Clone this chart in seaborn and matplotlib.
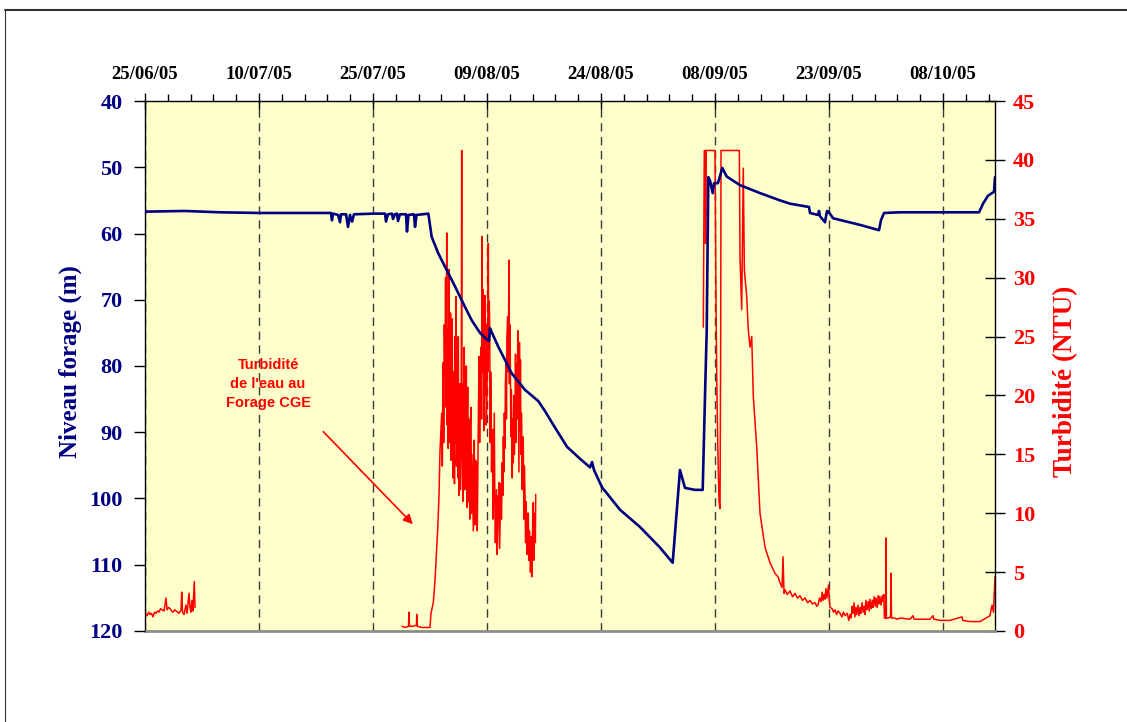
import numpy as np
import pandas as pd
import matplotlib
matplotlib.use("Agg")
import matplotlib.pyplot as plt
import matplotlib.dates as mdates
import matplotlib.ticker as mticker
from matplotlib.lines import Line2D
import seaborn as sns

START = pd.Timestamp("2005-06-25")

# Top axis: date labels every 15 days
date_labels = ["25/06/05", "10/07/05", "25/07/05", "09/08/05",
               "24/08/05", "08/09/05", "23/09/05", "08/10/05"]
level_ticks = [40, 50, 60, 70, 80, 90, 100, 110, 120]
turb_ticks = [0, 5, 10, 15, 20, 25, 30, 35, 40, 45]

# Borehole water level (m), days since 25/06/05
level_day = [0.0, 5.26, 9.87, 15.0, 20.4, 24.47, 24.6, 24.74, 25.4, 25.66,
             25.79, 26.45, 26.71, 26.97, 27.24, 27.5, 30.0, 31.58, 31.71, 31.97,
             32.5, 32.63, 32.89, 33.16, 33.29, 33.55, 34.34, 34.47, 34.67, 35.39,
             35.53, 35.72, 37.28, 37.72, 38.59, 39.47, 40.36, 41.22, 42.11, 42.99,
             44.08, 44.96, 45.26, 45.39, 45.62, 46.49, 47.37, 48.25, 50.0, 51.75,
             52.63, 53.68, 55.53, 57.24, 58.55, 58.82, 59.08, 60.13, 62.5, 65.13,
             67.76, 69.43, 70.39, 71.05, 72.37, 73.38, 73.68, 73.91, 74.12, 74.34,
             74.7, 74.87, 75.39, 75.96, 76.54, 78.29, 80.92, 83.55, 84.87, 87.37,
             87.5, 88.55, 88.68, 88.82, 89.47, 89.74, 90.0, 90.53, 94.08, 96.58,
             96.84, 97.24, 99.34, 105.92, 109.74, 110.26, 110.92, 111.71, 111.84]
level_m = [56.7, 56.6, 56.8, 56.9, 56.9, 56.9, 58.0, 57.0, 57.2, 58.3,
           57.1, 57.1, 59.0, 57.2, 58.2, 57.1, 57.0, 57.0, 58.2, 57.1,
           57.0, 57.8, 57.1, 57.0, 58.1, 57.1, 57.1, 59.7, 57.2, 57.1,
           59.0, 57.2, 57.0, 60.5, 63.0, 65.0, 67.0, 69.0, 71.1, 73.1,
           75.0, 76.0, 76.2, 74.3, 74.9, 77.1, 79.1, 81.1, 83.6, 85.3,
           86.8, 88.8, 92.2, 94.0, 95.3, 94.5, 95.7, 98.3, 101.7, 104.3,
           107.4, 109.7, 95.7, 98.4, 98.7, 98.7, 84.7, 74.6, 51.5, 52.0,
           53.9, 52.4, 52.4, 50.1, 51.4, 52.7, 53.9, 55.0, 55.5, 56.0,
           56.9, 57.2, 56.6, 57.4, 58.3, 56.6, 56.8, 57.7, 58.7, 59.5,
           58.0, 56.9, 56.8, 56.8, 56.8, 55.5, 54.3, 53.7, 51.5]

# Turbidity (NTU), three recording periods
turb_day_1 = [0.0, 0.26, 0.5, 0.66, 0.85, 1.05, 1.25, 1.45, 1.65, 1.84,
              2.05, 2.24, 2.5, 2.76, 2.9, 3.1, 3.29, 3.5, 3.68, 3.9,
              4.08, 4.3, 4.47, 4.74, 4.83, 4.93, 5.13, 5.39, 5.53, 5.79,
              5.92, 6.05, 6.18, 6.3, 6.49, 6.58]
turb_ntu_1 = [1.5, 1.3, 1.6, 1.4, 1.5, 1.2, 1.6, 1.5, 1.7, 1.6,
              1.9, 1.8, 1.7, 2.8, 1.8, 2.0, 1.9, 1.7, 1.6, 1.8,
              1.7, 1.6, 1.5, 1.8, 3.3, 1.6, 1.4, 2.2, 1.5, 3.2,
              2.0, 1.6, 2.6, 1.7, 4.2, 2.0]

turb_day_2 = [33.82, 34.21, 34.67, 34.74, 34.8, 35.26, 35.72, 35.76, 35.82, 36.45,
              36.97, 37.5, 37.63, 37.93, 38.16, 38.51, 38.68, 38.82,
              39.04, 39.12, 39.2, 39.25, 39.3, 39.38, 39.47, 39.55, 39.62, 39.7,
              39.76, 39.83, 39.9, 40.0, 40.06, 40.13, 40.2, 40.27, 40.36, 40.42,
              40.5, 40.57, 40.64, 40.72, 40.79, 40.85, 40.92, 40.98, 41.05, 41.12,
              41.17, 41.22, 41.29, 41.36, 41.43, 41.5, 41.58, 41.62, 41.67, 41.7,
              41.75, 41.82, 41.9, 41.95, 42.01, 42.08, 42.14, 42.2, 42.28, 42.35,
              42.4, 42.46, 42.53, 42.6, 42.67, 42.74, 42.8, 42.89, 42.95, 43.02,
              43.12, 43.2, 43.27, 43.33, 43.38, 43.42, 43.5, 43.58, 43.64, 43.72,
              43.78, 43.86, 43.95, 44.03, 44.1, 44.21, 44.28, 44.34, 44.4, 44.46,
              44.51, 44.57, 44.64, 44.7, 44.76, 44.83, 44.9, 45.0, 45.06, 45.12,
              45.17, 45.22, 45.3, 45.36, 45.42, 45.48, 45.53, 45.6, 45.67, 45.75,
              45.8, 45.88, 45.96, 46.03, 46.1, 46.18, 46.25, 46.33, 46.41, 46.48,
              46.55, 46.58, 46.66, 46.75, 46.82, 46.9, 47.01, 47.08, 47.15, 47.22,
              47.28, 47.35, 47.42, 47.5, 47.56, 47.62, 47.72, 47.8, 47.89, 47.95,
              48.02, 48.07, 48.14, 48.2, 48.25, 48.32, 48.4, 48.46, 48.52, 48.6,
              48.68, 48.75, 48.82, 48.91, 48.97, 49.05, 49.12, 49.2, 49.27, 49.34,
              49.4, 49.47, 49.53, 49.57, 49.64, 49.7, 49.78, 49.85, 49.92, 50.0,
              50.08, 50.15, 50.22, 50.3, 50.36, 50.43, 50.5, 50.58, 50.66, 50.72,
              50.8, 50.88, 50.95, 51.02, 51.09, 51.16, 51.22, 51.3, 51.36, 51.41]
turb_ntu_2 = [0.4, 0.3, 0.4, 1.6, 0.4, 0.4, 0.5, 1.4, 0.4, 0.3,
              0.3, 0.3, 1.5, 2.4, 4.3, 8.6, 11.4, 15.4,
              18.5, 14.0, 21.0, 22.8, 16.0, 26.0, 21.6, 30.0, 19.0, 33.8,
              17.5, 25.6, 15.5, 30.7, 16.0, 18.5, 27.0, 14.5, 20.5, 26.5,
              13.0, 15.4, 22.0, 12.5, 25.0, 16.0, 28.4, 14.0, 17.6, 22.5,
              13.0, 25.0, 11.5, 15.6, 21.0, 12.0, 14.8, 22.0, 40.8, 16.0,
              18.2, 11.0, 21.0, 13.5, 24.1, 12.0, 19.5, 14.3, 22.5, 10.5,
              17.0, 20.7, 11.0, 18.0, 13.1, 9.5, 17.5, 19.0, 10.0, 15.0,
              11.4, 8.5, 15.5, 16.2, 9.0, 9.7, 14.5, 11.0, 14.3, 8.5,
              12.8, 18.0, 23.3, 16.0, 21.5, 24.1, 18.0, 33.5, 22.0, 29.0,
              26.7, 17.0, 19.9, 28.5, 20.0, 26.1, 17.5, 19.9, 26.0, 22.0,
              32.9, 24.0, 28.0, 25.6, 16.0, 22.0, 20.4, 13.5, 17.0, 17.1,
              9.5, 14.0, 18.5, 11.0, 7.5, 10.0, 12.0, 6.5, 8.6, 11.5,
              9.0, 12.6, 7.0, 10.0, 12.5, 9.5, 14.3, 11.5, 16.5, 13.5,
              18.5, 15.5, 21.0, 22.7, 18.0, 25.0, 26.7, 22.0, 31.5, 21.0,
              26.0, 22.7, 16.5, 20.5, 17.9, 13.0, 18.0, 14.3, 20.0, 15.0,
              17.7, 23.5, 16.0, 22.7, 18.0, 25.5, 19.9, 13.5, 24.5, 17.0,
              23.0, 15.0, 18.5, 17.1, 12.0, 16.5, 15.6, 9.5, 14.0, 11.4,
              7.5, 11.0, 8.3, 6.5, 10.0, 10.0, 6.0, 8.5, 7.1, 5.0,
              8.0, 4.6, 6.5, 9.5, 10.9, 6.0, 7.1, 10.0, 7.5, 11.6]

turb_day_3 = [73.46, 73.59, 73.72, 73.76, 73.84, 75.0, 75.13, 75.26, 75.39, 75.53,
              75.66, 75.75, 75.79, 78.2, 78.29, 78.51, 78.72, 78.86, 79.17, 79.38,
              79.61, 79.83, 80.04, 80.49, 80.92, 81.58, 82.24, 82.89, 83.29, 83.55,
              83.82, 83.95, 84.08, 84.21, 84.5, 84.87, 85.2, 85.53, 85.85, 86.18,
              86.5, 86.84, 87.2, 87.5, 87.8, 88.16, 88.4, 88.55, 88.75, 88.95,
              89.1, 89.21, 89.35, 89.47, 89.6, 89.74, 89.93, 90.05, 90.13, 90.4,
              90.6, 90.79, 91.0, 91.2, 91.45, 91.7, 91.9, 92.11, 92.4, 92.6,
              92.76, 92.9, 93.05, 93.16, 93.3, 93.4, 93.55, 93.65, 93.82, 93.95,
              94.1, 94.21, 94.35, 94.5, 94.61, 94.75, 94.85, 95.0, 95.15, 95.3,
              95.39, 95.55, 95.7, 95.79, 95.95, 96.1, 96.18, 96.35, 96.5, 96.58,
              96.7, 96.84, 97.0, 97.11, 97.2, 97.3, 97.45, 97.5, 97.55, 97.8,
              98.1, 98.16, 98.22, 98.6, 99.0, 99.34, 100.66, 101.05, 101.2, 101.97,
              103.29, 103.68, 103.8, 104.61, 105.92, 107.5, 107.6, 108.55, 109.87, 110.66,
              111.18, 111.45, 111.64, 111.84]
turb_ntu_3 = [25.8, 40.8, 40.8, 32.9, 40.8, 40.8, 28.0, 20.0, 15.0, 11.0,
              10.4, 25.0, 40.8, 40.8, 31.8, 27.3, 39.3, 30.7, 28.4, 25.6,
              24.1, 25.0, 19.9, 15.6, 10.0, 7.1, 5.8, 4.9, 4.6, 4.1,
              3.7, 6.3, 3.2, 3.5, 3.1, 3.4, 2.9, 3.2, 2.8, 3.0,
              2.6, 2.8, 2.4, 2.6, 2.3, 2.4, 2.1, 2.2, 2.8, 2.5,
              3.3, 2.6, 3.1, 2.7, 3.6, 2.8, 3.9, 2.6, 2.0, 1.9,
              1.6, 1.8, 1.4, 1.7, 1.5, 1.2, 1.6, 1.3, 1.5, 0.9,
              1.4, 1.1, 2.1, 1.5, 2.4, 1.2, 2.0, 1.4, 2.2, 1.3,
              2.0, 1.5, 2.4, 1.6, 2.1, 1.4, 2.6, 1.8, 2.5, 1.7,
              2.7, 1.9, 2.6, 2.0, 2.9, 2.1, 2.8, 2.0, 3.0, 2.3,
              2.9, 2.2, 3.0, 2.5, 3.1, 1.1, 1.1, 7.9, 1.1, 1.1,
              1.2, 4.9, 1.1, 1.1, 1.0, 1.1, 1.0, 1.3, 1.0, 1.0,
              1.0, 1.3, 1.0, 0.9, 0.9, 1.2, 0.9, 0.8, 0.8, 1.1,
              1.3, 2.2, 1.6, 4.6]


def to_dates(days):
    return START + pd.to_timedelta(np.asarray(days, dtype=float), unit="D")


level_df = pd.DataFrame({"date": to_dates(level_day), "level": level_m})
turb_df = pd.concat([
    pd.DataFrame({"date": to_dates(d), "ntu": v, "segment": i})
    for i, (d, v) in enumerate([(turb_day_1, turb_ntu_1),
                                (turb_day_2, turb_ntu_2),
                                (turb_day_3, turb_ntu_3)])
], ignore_index=True)

NAVY = "#000080"
RED = "#FF0000"

sns.set_theme(style="ticks")
plt.rcParams["font.family"] = ["Liberation Serif", "DejaVu Serif"]

fig = plt.figure(figsize=(11.27, 7.22), dpi=100)
ax = fig.add_axes([0.12866, 0.12604, 0.75421, 0.73407])
ax.set_facecolor("#FFFFCC")
ax2 = ax.twinx()

sns.lineplot(data=turb_df, x="date", y="ntu", units="segment", estimator=None,
             sort=False, color=RED, linewidth=1.1, ax=ax)
sns.lineplot(data=level_df, x="date", y="level", estimator=None, sort=False,
             color=NAVY, linewidth=1.9, ax=ax2)

# x axis (dates on top)
major_dates = pd.date_range(START, periods=len(date_labels), freq="15D")
minor_dates = pd.date_range(START, START + pd.Timedelta(days=112), freq="3D")
ax.set_xlim(START, START + pd.Timedelta(days=111.84))
ax.xaxis.set_major_locator(mticker.FixedLocator(mdates.date2num(major_dates)))
ax.xaxis.set_minor_locator(mticker.FixedLocator(mdates.date2num(minor_dates)))
ax.set_xticklabels(date_labels)
ax.xaxis.set_ticks_position("top")
ax.xaxis.set_label_position("top")
ax.set_xlabel("")
ax.tick_params(axis="x", which="major", direction="inout", length=12, width=1,
               top=True, bottom=False, labeltop=True, labelbottom=False,
               pad=7, labelsize=13.5, labelcolor="black", color="black")
ax.tick_params(axis="x", which="minor", direction="out", length=5, width=1,
               top=True, bottom=False, color="black")
for t in ax.get_xticklabels():
    t.set_fontweight("bold")
ax.xaxis.grid(True, which="major", linestyle=(0, (6, 4)), color="#3a3a3a",
              linewidth=1.0)
ax.set_axisbelow(True)

# right axis: turbidity
ax.set_ylim(0, 45)
ax.set_yticks(turb_ticks)
ax.yaxis.set_ticks_position("right")
ax.yaxis.set_label_position("right")
ax.tick_params(axis="y", which="major", direction="inout", length=14, width=1,
               right=True, left=False, labelright=True, labelleft=False,
               pad=6, labelsize=16, labelcolor=RED, color="black")
for t in ax.get_yticklabels():
    t.set_fontweight("bold")
ax.set_ylabel("Turbidité (NTU)", color=RED, fontsize=19.5, fontweight="bold")
ax.yaxis.set_label_coords(1.068, 0.472)

# left axis: water level (inverted)
ax2.set_ylim(120, 40)
ax2.set_yticks(level_ticks)
ax2.yaxis.set_ticks_position("left")
ax2.yaxis.set_label_position("left")
ax2.tick_params(axis="y", which="major", direction="out", length=8, width=1,
                left=True, right=False, labelleft=True, labelright=False,
                pad=8, labelsize=16, labelcolor=NAVY, color="black")
for t in ax2.get_yticklabels():
    t.set_fontweight("bold")
ax2.set_ylabel("Niveau forage (m)", color=NAVY, fontsize=18, fontweight="bold")
ax2.yaxis.set_label_coords(-0.074, 0.509)

for sp in ax2.spines.values():
    sp.set_visible(False)
for name in ("left", "right", "top"):
    ax.spines[name].set_color("black")
    ax.spines[name].set_linewidth(1.0)
ax.spines["bottom"].set_color("#8c8c8c")
ax.spines["bottom"].set_linewidth(2.0)

# annotation of the turbidity curve
ax.text(START + pd.Timedelta(days=16.2), 21.0, "Turbidité\nde l'eau au\nForage CGE",
        ha="center", va="center", color=RED, fontsize=10.5, fontweight="bold",
        family=["Liberation Sans", "DejaVu Sans"], linespacing=1.45)
ax.annotate("", xy=(START + pd.Timedelta(days=35.5), 8.9),
            xytext=(START + pd.Timedelta(days=23.2), 17.1),
            arrowprops=dict(arrowstyle="-|>", color=RED, lw=1.2,
                            mutation_scale=14))

# outer frame
fig.add_artist(Line2D([0.0044, 1.0], [0.986, 0.986], transform=fig.transFigure,
                      color="#333333", linewidth=1.5))
fig.add_artist(Line2D([0.0044, 0.0044], [0.0, 0.986], transform=fig.transFigure,
                      color="#333333", linewidth=0.8))

fig.savefig("out.png", dpi=100)
